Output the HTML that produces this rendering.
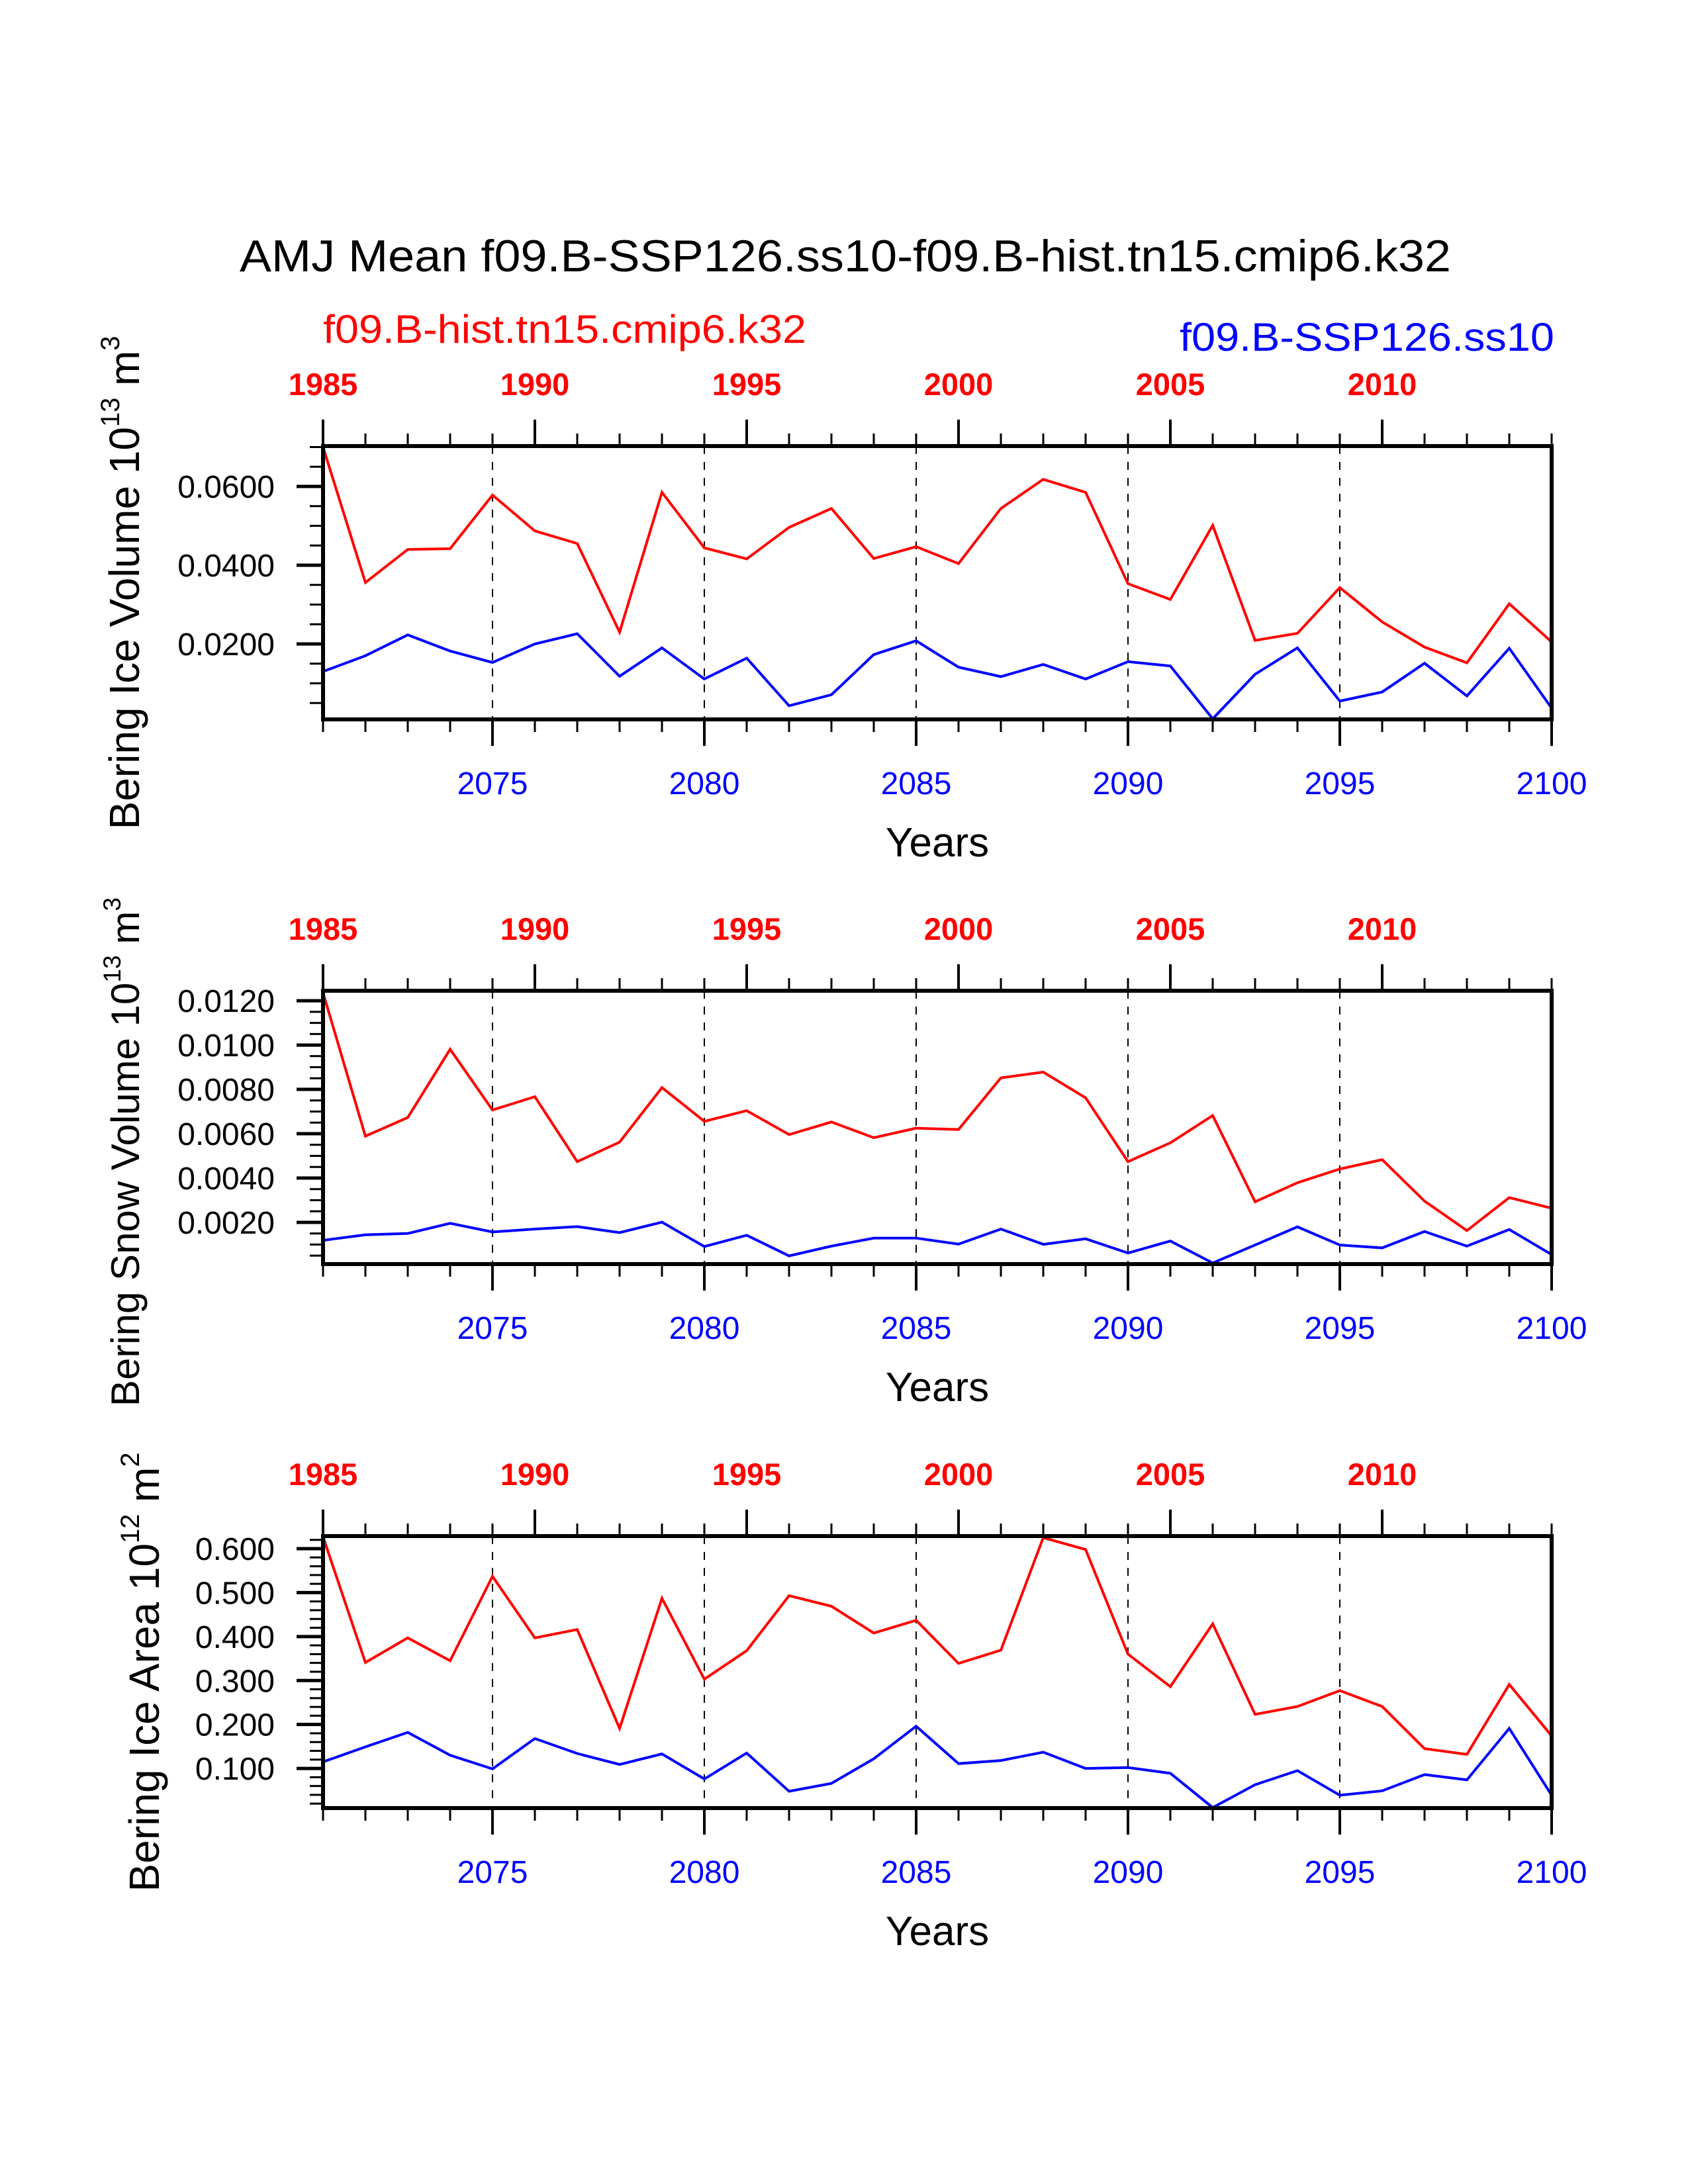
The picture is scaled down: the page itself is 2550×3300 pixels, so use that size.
<!DOCTYPE html>
<html><head><meta charset="utf-8"><style>html,body{margin:0;padding:0;background:#fff}svg{display:block}</style></head>
<body>
<svg id="chart" width="2550" height="3300" viewBox="0 0 2550 3300" xmlns="http://www.w3.org/2000/svg" font-family="'Liberation Sans', Helvetica, sans-serif">
<text x="1277" y="410" font-size="68" text-anchor="middle" textLength="1830" lengthAdjust="spacingAndGlyphs">AMJ Mean f09.B-SSP126.ss10-f09.B-hist.tn15.cmip6.k32</text>
<text x="488" y="518" font-size="60" fill="#ff0000" textLength="730" lengthAdjust="spacingAndGlyphs">f09.B-hist.tn15.cmip6.k32</text>
<text x="2348" y="530" font-size="60" fill="#0000ff" text-anchor="end" textLength="566" lengthAdjust="spacingAndGlyphs">f09.B-SSP126.ss10</text>
<g id="plots"></g>
</svg>
<script>
const years = [2071,2072,2073,2074,2075,2076,2077,2078,2079,2080,2081,2082,2083,2084,2085,2086,2087,2088,2089,2090,2091,2092,2093,2094,2095,2096,2097,2098,2099,2100];
const iceVolHist = [0.0700,0.0356,0.0440,0.0442,0.0578,0.0487,0.0455,0.0230,0.0585,0.0444,0.0416,0.0496,0.0544,0.0417,0.0447,0.0404,0.0544,0.0618,0.0585,0.0353,0.0313,0.0501,0.0209,0.0227,0.0343,0.0256,0.0192,0.0152,0.0302,0.0205];
const iceVolSsp = [0.0130,0.0170,0.0223,0.0182,0.0153,0.0200,0.0226,0.0118,0.0190,0.0111,0.0164,0.0043,0.0071,0.0173,0.0208,0.0141,0.0117,0.0148,0.0111,0.0155,0.0144,0.0010,0.0123,0.0190,0.0055,0.0078,0.0151,0.0068,0.0189,0.0037];
const snowVolHist = [0.01236,0.00589,0.00673,0.00981,0.00707,0.00767,0.00474,0.00562,0.00808,0.00656,0.00704,0.00596,0.00653,0.00582,0.00625,0.00619,0.00852,0.00878,0.00762,0.00474,0.00559,0.00682,0.00293,0.00379,0.00441,0.00483,0.00296,0.00163,0.00312,0.00264];
const snowVolSsp = [0.00119,0.00144,0.00150,0.00196,0.00157,0.00170,0.00181,0.00154,0.00201,0.00091,0.00142,0.00049,0.00093,0.00129,0.00129,0.00102,0.00170,0.00101,0.00126,0.00062,0.00116,0.00017,0.00098,0.00180,0.00098,0.00085,0.00159,0.00093,0.00168,0.00055];
const iceAreaHist = [0.627,0.341,0.397,0.345,0.537,0.397,0.416,0.191,0.487,0.303,0.368,0.493,0.469,0.408,0.437,0.339,0.369,0.625,0.598,0.360,0.286,0.429,0.223,0.241,0.277,0.241,0.145,0.132,0.291,0.174];
const iceAreaSsp = [0.115,0.149,0.182,0.130,0.099,0.168,0.134,0.109,0.133,0.076,0.135,0.048,0.066,0.122,0.196,0.111,0.118,0.137,0.100,0.102,0.089,0.011,0.063,0.095,0.039,0.049,0.086,0.074,0.191,0.039];
const bottomTickLabels = ["2075","2080","2085","2090","2095","2100"];
const topTickLabels = ["1985","1990","1995","2000","2005","2010"];
const iceVolTicks = ["0.0200","0.0400","0.0600"];
const snowVolTicks = ["0.0020","0.0040","0.0060","0.0080","0.0100","0.0120"];
const iceAreaTicks = ["0.100","0.200","0.300","0.400","0.500","0.600"];

const NS="http://www.w3.org/2000/svg";
const root=document.getElementById('plots');
function mk(tag,attrs,parent){const e=document.createElementNS(NS,tag);for(const k in attrs)e.setAttribute(k,attrs[k]);(parent||root).appendChild(e);return e;}

const X0=488,X1=2344;
const panels=[
 {name:'ice-volume',top:674,bot:1087,ymin:0.00084,ymax:0.07025,minor:0.005,ticks:iceVolTicks,hist:iceVolHist,ssp:iceVolSsp,title:['Bering Ice Volume 10','13',' m','3'],tx:210,fs:64,off:0},
 {name:'snow-volume',top:1497,bot:1910,ymin:0.00012,ymax:0.01245,minor:0.0005,ticks:snowVolTicks,hist:snowVolHist,ssp:snowVolSsp,title:['Bering Snow Volume 10','13',' m','3'],tx:210,fs:60,off:37},
 {name:'ice-area',top:2321,bot:2732,ymin:0.0098,ymax:0.6286,minor:0.02,ticks:iceAreaTicks,hist:iceAreaHist,ssp:iceAreaSsp,title:['Bering Ice Area 10','12',' m','2'],tx:240,fs:64,off:0}
];
const xS=y=>X0+(y-years[0])/(years[years.length-1]-years[0])*(X1-X0);

panels.forEach(p=>{
 const g=mk('g',{});
 
 
 const yS=v=>p.bot-(v-p.ymin)/(p.ymax-p.ymin)*(p.bot-p.top);
 bottomTickLabels.forEach(l=>{const yr=+l;if(yr<years[years.length-1]){const d=mk('line',{x1:xS(yr),x2:xS(yr),y1:p.top,y2:p.bot,stroke:'#000','stroke-width':2,'stroke-dasharray':'12,12'},g);
  
  }});
 years.forEach(yr=>{const major=(yr%5===0);const x=xS(yr);
  const b=mk('line',{x1:x,x2:x,y1:p.bot,y2:p.bot+(major?40:19),stroke:'#000','stroke-width':major?4:3},g);
  
  
  const tmaj=((yr-86)%5===0);
  const t=mk('line',{x1:x,x2:x,y1:p.top,y2:p.top-(tmaj?40:19),stroke:'#000','stroke-width':tmaj?4:3},g);
  
  });
 bottomTickLabels.forEach(l=>{const t=mk('text',{x:xS(+l),y:p.bot+113,'font-size':48,fill:'#0000ff','text-anchor':'middle'},g);t.textContent=l;
  
  });
 topTickLabels.forEach(l=>{const t=mk('text',{x:xS(+l+86),y:p.top-77,'font-size':47,'font-weight':'bold',fill:'#ff0000','text-anchor':'middle'},g);t.textContent=l;
  
  });
 for(let v=Math.ceil(p.ymin/p.minor)*p.minor;v<=p.ymax+1e-9;v+=p.minor){const y=yS(v);
  const m=mk('line',{x1:X0,x2:X0-20,y1:y,y2:y,stroke:'#000','stroke-width':3},g);
  
  }
 p.ticks.forEach(l=>{const y=yS(+l);
  const m=mk('line',{x1:X0,x2:X0-40,y1:y,y2:y,stroke:'#000','stroke-width':5},g);
  
  
  const t=mk('text',{x:415,y:y+17,'font-size':48,'text-anchor':'end'},g);t.textContent=l;
  
  });
 const ptsH=years.map((yr,i)=>xS(yr)+','+yS(p.hist[i])).join(' ');
 const ptsS=years.map((yr,i)=>xS(yr)+','+yS(p.ssp[i])).join(' ');
 const lh=mk('polyline',{points:ptsH,fill:'none',stroke:'#ff0000','stroke-width':4,'stroke-linejoin':'miter'},g);
 
 
 const ls=mk('polyline',{points:ptsS,fill:'none',stroke:'#0000ff','stroke-width':4},g);
 
 
 const fr=mk('rect',{x:X0,y:p.top,width:X1-X0,height:p.bot-p.top,fill:'none',stroke:'#000','stroke-width':6},g);
 
 
 const xt=mk('text',{x:(X0+X1)/2,y:p.bot+207,'font-size':62,'text-anchor':'middle'},g);xt.textContent='Years';
 
 
 const cy=(p.top+p.bot)/2+p.off;
 const yt=mk('text',{x:0,y:0,'font-size':p.fs,'text-anchor':'middle',transform:'translate('+p.tx+','+cy+') rotate(-90)'},g);
 
 
 const a=mk('tspan',{},yt);a.textContent=p.title[0];
 const b=mk('tspan',{'font-size':p.fs*0.62,dy:-p.fs*0.47},yt);b.textContent=p.title[1];
 const c=mk('tspan',{dy:p.fs*0.47},yt);c.textContent=p.title[2];
 const d=mk('tspan',{'font-size':p.fs*0.62,dy:-p.fs*0.47},yt);d.textContent=p.title[3];
});
</script>
</body></html>
